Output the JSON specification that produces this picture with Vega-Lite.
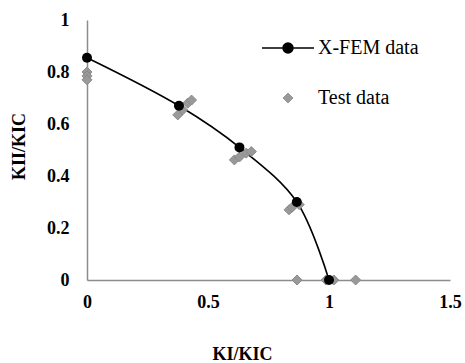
{
  "$schema": "https://vega.github.io/schema/vega-lite/v6.json",
  "autosize": {"type": "none"},
  "padding": {"left": 87, "top": 20, "right": 15, "bottom": 83},
  "width": 363,
  "height": 260,
  "background": "white",
  "config": {
    "view": {"stroke": null},
    "font": "serif",
    "axis": {
      "labelFont": "serif",
      "labelFontSize": 18,
      "labelFontWeight": "bold",
      "labelColor": "black",
      "titleFont": "serif",
      "titleFontSize": 18,
      "titleFontWeight": "bold",
      "titleColor": "black",
      "domainColor": "#8c8c8c",
      "domainWidth": 1.5,
      "ticks": false,
      "grid": false
    },
    "legend": {
      "labelFont": "serif",
      "labelFontSize": 20,
      "labelColor": "black",
      "labelFontWeight": "normal"
    }
  },
  "datasets": {
    "pts": [
      {"series": "X-FEM data", "ki": 0.0, "kii": 0.855},
      {"series": "X-FEM data", "ki": 0.38, "kii": 0.67},
      {"series": "X-FEM data", "ki": 0.63, "kii": 0.51},
      {"series": "X-FEM data", "ki": 0.867, "kii": 0.30},
      {"series": "X-FEM data", "ki": 1.0, "kii": 0.0},
      {"series": "Test data", "ki": 0.0, "kii": 0.80},
      {"series": "Test data", "ki": 0.0, "kii": 0.785},
      {"series": "Test data", "ki": 0.0, "kii": 0.77},
      {"series": "Test data", "ki": 0.375, "kii": 0.635},
      {"series": "Test data", "ki": 0.395, "kii": 0.654},
      {"series": "Test data", "ki": 0.416, "kii": 0.68},
      {"series": "Test data", "ki": 0.432, "kii": 0.692},
      {"series": "Test data", "ki": 0.609, "kii": 0.462},
      {"series": "Test data", "ki": 0.63, "kii": 0.473},
      {"series": "Test data", "ki": 0.658, "kii": 0.488},
      {"series": "Test data", "ki": 0.679, "kii": 0.494},
      {"series": "Test data", "ki": 0.835, "kii": 0.27},
      {"series": "Test data", "ki": 0.848, "kii": 0.28},
      {"series": "Test data", "ki": 0.877, "kii": 0.29},
      {"series": "Test data", "ki": 0.868, "kii": 0.0},
      {"series": "Test data", "ki": 0.988, "kii": 0.0},
      {"series": "Test data", "ki": 1.02, "kii": 0.0},
      {"series": "Test data", "ki": 1.11, "kii": 0.0}
    ]
  },
  "data": {"name": "pts"},
  "encoding": {
    "x": {
      "field": "ki", "type": "quantitative",
      "scale": {"domain": [0, 1.5], "nice": false, "zero": false},
      "axis": {"values": [0, 0.5, 1, 1.5], "format": "~g", "labelPadding": 13, "title": "KI/KIC", "titlePadding": 34, "titleX": 155, "labelFlush": false}
    },
    "y": {
      "field": "kii", "type": "quantitative",
      "scale": {"domain": [0, 1], "nice": false},
      "axis": {"values": [0, 0.2, 0.4, 0.6, 0.8, 1], "format": "~g", "labelPadding": 18, "title": "KII/KIC", "titlePadding": 18, "titleY": 126, "labelFlush": false}
    }
  },
  "layer": [
    {
      "transform": [{"filter": "datum.series === 'X-FEM data'"}],
      "mark": {"type": "line", "interpolate": "catmull-rom", "strokeWidth": 1.6},
      "encoding": {
        "color": {
          "field": "series", "type": "nominal",
          "scale": {"domain": ["X-FEM data", "Test data"], "range": ["black", "#999999"]},
          "legend": {
            "title": null,
            "orient": "none",
            "legendX": 191,
            "legendY": 18,
            "labelFont": "serif",
            "labelFontSize": 20,
            "labelColor": "black",
            "labelOffset": 20,
            "symbolSize": 676,
            "rowPadding": 30,
            "encode": {
              "labels": {
                "update": {
                  "font": {"value": "serif"},
                  "fontSize": {"value": 20},
                  "fill": {"value": "black"}
                }
              },
              "symbols": {
                "update": {
                  "shape": {"signal": "datum.value === 'X-FEM data' ? 'M-2,0H2M-0.38,0A0.38,0.38 0 1,0 0.38,0A0.38,0.38 0 1,0 -0.38,0Z' : 'diamond'"},
                  "size": {"signal": "datum.value === 'X-FEM data' ? 676 : 100"},
                  "fill": {"signal": "datum.value === 'X-FEM data' ? 'black' : '#999999'"},
                  "stroke": {"signal": "datum.value === 'X-FEM data' ? 'black' : '#8a8a8a'"},
                  "strokeWidth": {"signal": "datum.value === 'X-FEM data' ? 1.6 : 1"},
                  "opacity": {"value": 1},
                  "fillOpacity": {"value": 1}
                }
              }
            }
          }
        }
      }
    },
    {
      "transform": [{"filter": "datum.series === 'Test data'"}],
      "mark": {"type": "point", "shape": "diamond", "filled": true, "size": 100, "stroke": "#8a8a8a", "strokeWidth": 1, "opacity": 1},
      "encoding": {
        "color": {"field": "series", "type": "nominal"}
      }
    },
    {
      "transform": [{"filter": "datum.series === 'X-FEM data'"}],
      "mark": {"type": "point", "shape": "circle", "filled": true, "size": 100, "color": "black", "opacity": 1},
      "encoding": {}
    }
  ]
}
